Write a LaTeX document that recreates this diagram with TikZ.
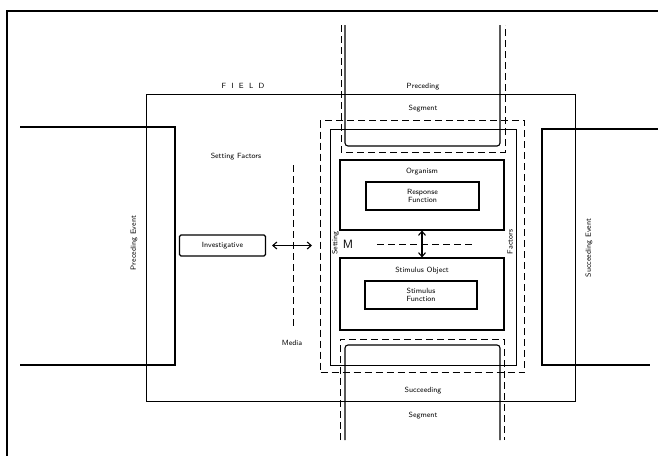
\documentclass[tikz,border=0pt]{standalone}
\usetikzlibrary{arrows.meta}
\begin{document}
\begin{tikzpicture}[x=1pt,y=-1pt,
  line/.style={line width=1.1pt},
  dline/.style={line width=1pt,dash pattern=on 7pt off 4pt},
  lbl/.style={font=\sffamily\fontsize{7.5}{8.5}\selectfont,inner sep=0.5pt},
  box/.style={draw,line width=1.1pt,inner sep=0pt,align=center},
  dbl/.style={{Straight Barb[length=4pt,width=7pt]}-{Straight Barb[length=4pt,width=7pt]},line width=1.1pt}]
\useasboundingbox (0,0) rectangle (658,456);
% outer frame
\draw[line width=1.6pt] (658,11) -- (7,11) -- (7,456);
% field
\node[box,minimum width=429,minimum height=307,anchor=north west] (field) at (146,94) {};
\node[lbl] (fieldlbl) at (243,86) {F\ \ I\ \ E\ \ L\ \ D};
% preceding / succeeding events
\draw[line] (20,127) -- (175,127) -- (175,365) -- (20,365);
\draw[line] (658,129) -- (542,129) -- (542,365) -- (650,365);
\node[lbl,rotate=90] (pev) at (134,243) {Preceding Event};
\node[lbl,rotate=90] (sev) at (589,248) {Succeeding Event};
% setting big dashed rect and inner solid rect
\node[draw,dline,minimum width=204,minimum height=252,anchor=north west,inner sep=0pt] (setbox) at (320,120) {};
\node[box,minimum width=186,minimum height=236,anchor=north west] (inner) at (330,129) {};
% preceding segment column
\draw[line,rounded corners=3pt] (345,25) -- (345,146) -- (500,146) -- (500,25);
\draw[dline] (341,25) -- (341,152) -- (505,152) -- (505,25);
% succeeding segment column
\draw[line,rounded corners=3pt] (345,440) -- (345,345) -- (500,345) -- (500,440);
\draw[dline] (340,440) -- (340,339) -- (504,339) -- (504,440);
\node[lbl] (prec) at (423,87) {Preceding};
\node[lbl] (pseg) at (423,109) {Segment};
\node[lbl] (succ) at (423,391) {Succeeding};
\node[lbl] (sseg) at (423,416) {Segment};
% organism
\node[box,minimum width=164,minimum height=70] (org) at (422,195) {};
\node[lbl] (orglbl) at (422,172) {Organism};
\node[box,minimum width=113,minimum height=28,lbl,draw,line width=1.1pt] (resp) at (422.5,196) {Response\\Function};
% stimulus object
\node[box,minimum width=164,minimum height=72] (stim) at (422,294) {};
\node[lbl] (stimlbl) at (422,271) {Stimulus Object};
\node[box,minimum width=112,minimum height=28,lbl,draw,line width=1.1pt] (sfun) at (421,295) {Stimulus\\Function};
% M, dashed line, vertical double arrow
\coordinate (mdl) at (377,244);
\coordinate (mdr) at (475,244);
\draw[dline] (mdl) -- (mdr);
\draw[dbl] (org.south) -- (stim.north);
\node[font=\sffamily\fontsize{12}{12}\selectfont,inner sep=0pt] (M) at (348,244) {M};
\node[lbl,rotate=90] (setl) at (335.5,243) {Setting};
\node[lbl,rotate=90] (facl) at (510,242) {Factors};
% setting factors / investigative / media
\node[lbl] (sf) at (236,157) {Setting Factors};
\node[box,lbl,draw,line width=1.1pt,rounded corners=1.5pt,minimum width=86,minimum height=21] (inv) at (222.5,245.5) {Investigative};
\draw[dbl,shorten <=6pt,shorten >=8pt] (inv.east) -- (inv.east -| setbox.west);
\coordinate (mt) at (293,165);
\coordinate (mb) at (293,328);
\draw[dline] (mt) -- (mb);
\node[lbl] (media) at (292,343) {Media};
\end{tikzpicture}
\end{document}
